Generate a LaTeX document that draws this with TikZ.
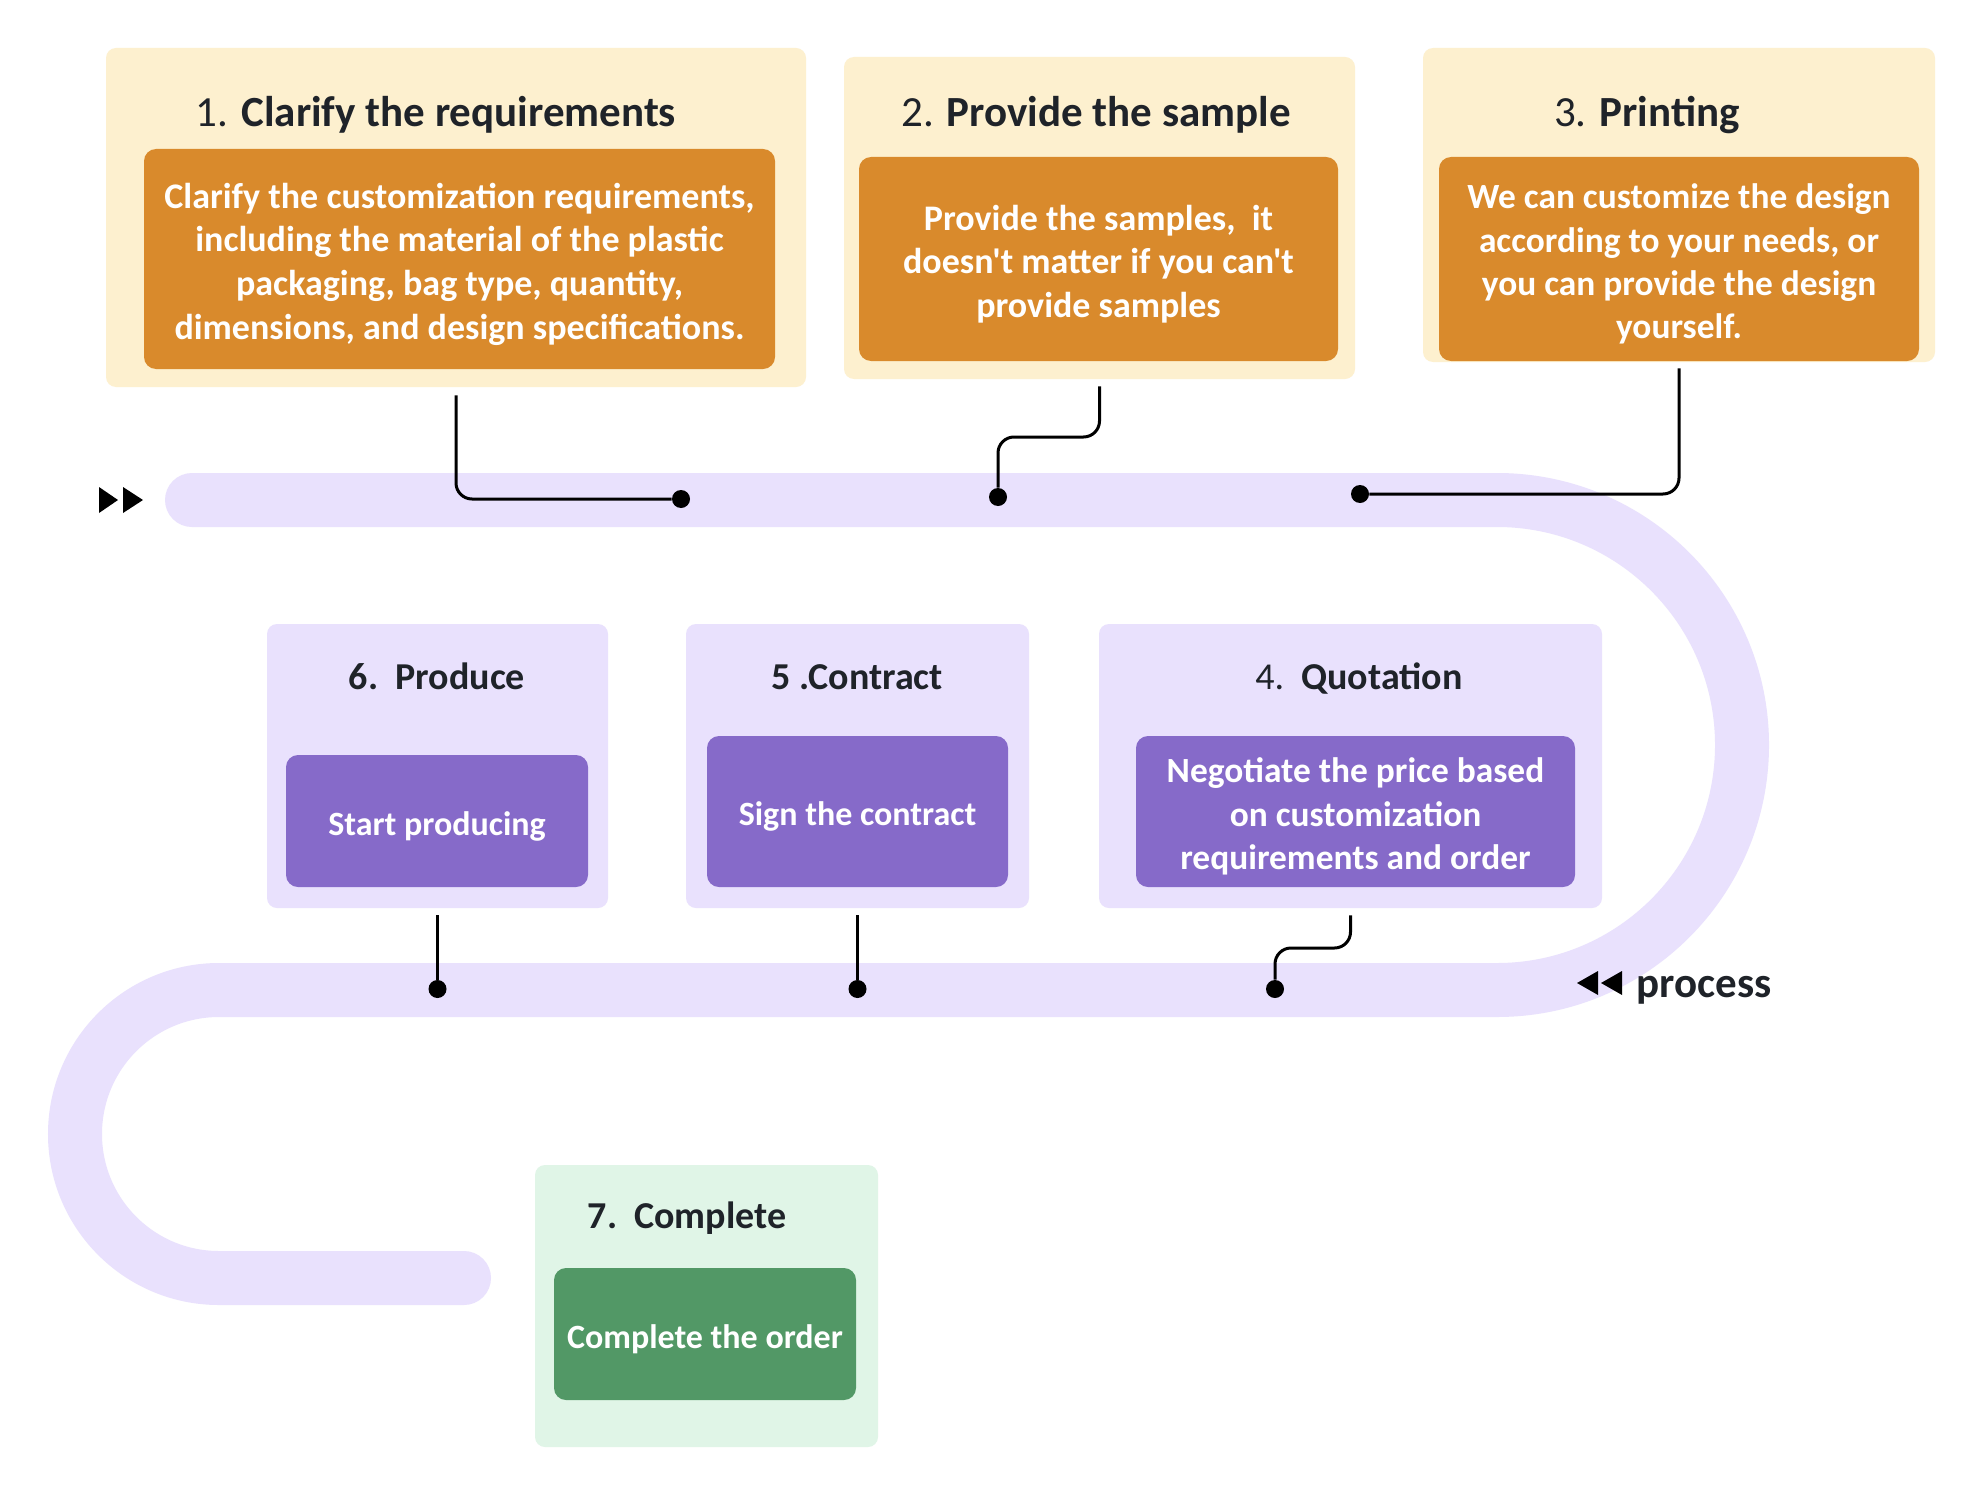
\documentclass[tikz,border=0pt]{standalone}
\usepackage{fontspec}
\newfontfamily\crl{Carlito}
\definecolor{ylw}{HTML}{FDF0CF}
\definecolor{org}{HTML}{D98A2C}
\definecolor{lav}{HTML}{E9E1FD}
\definecolor{pur}{HTML}{866AC9}
\definecolor{grn}{HTML}{529866}
\definecolor{lgrn}{HTML}{E0F5E7}
\definecolor{ink}{HTML}{1F2329}
\newcommand\ttlfnt{\crl\fontsize{21.5pt}{26pt}\selectfont}
\newcommand\ttlsmall{\crl\fontsize{19pt}{23pt}\selectfont}
\newcommand\bdyfnt{\crl\bfseries\fontsize{18pt}{21.8pt}\selectfont}
\newcommand\bdymid{\crl\bfseries\fontsize{17.7pt}{21.6pt}\selectfont}
\newcommand\bdysmall{\crl\bfseries\fontsize{17pt}{21pt}\selectfont}
\tikzset{
  outerbox/.style={rectangle, rounded corners=5pt, inner sep=0pt},
  innerbox/.style={rectangle, rounded corners=6pt, inner sep=0pt},
  bodytext/.style={inner sep=0pt, text=white, align=center, yshift=-2.5pt},
  ttl/.style={anchor=base, text=ink, font=\ttlfnt, inner sep=0pt},
  ttlb/.style={anchor=base, text=ink, font=\ttlsmall, inner sep=0pt},
  dotnode/.style={circle, fill=black, inner sep=0pt, minimum size=9pt},
  conn/.style={line width=1.5pt, black, rounded corners=8pt},
  track/.style={lav, line width=27pt, line cap=round}
}
\begin{document}
\begin{tikzpicture}[x=0.5pt,y=-0.5pt]
\useasboundingbox[fill=white] (0,0) rectangle (1984,1498);
% track
\draw[track] (192,500) -- (1497,500) arc[start angle=-90, end angle=90, radius=245]
  -- (219,990) arc[start angle=270, end angle=90, radius=144] -- (464,1278);
% outer boxes
\node[outerbox, fill=ylw, minimum width=350pt, minimum height=169.5pt] (o1) at (456,217.5) {};
\node[outerbox, fill=ylw, minimum width=255.5pt, minimum height=161pt] (o2) at (1099.5,218) {};
\node[outerbox, fill=ylw, minimum width=256pt, minimum height=157pt] (o3) at (1679,205) {};
\node[outerbox, fill=lav, minimum width=170.5pt, minimum height=142pt] (o6) at (437.5,766) {};
\node[outerbox, fill=lav, minimum width=171.5pt, minimum height=142pt] (o5) at (857.5,766) {};
\node[outerbox, fill=lav, minimum width=251.5pt, minimum height=142pt] (o4) at (1350.5,766) {};
\node[outerbox, fill=lgrn, minimum width=171.5pt, minimum height=141pt] (o7) at (706.5,1306) {};
% titles
\node[ttl] (t1) at (436,126.5) {1. \textbf{Clarify the requirements}};
\node[ttl] (t2) at (1096,126.5) {2. \textbf{Provide the sample}};
\node[ttl] (t3) at (1647,126.5) {3. \textbf{Printing}};
\node[ttlb] (t6) at (437,689) {\textbf{6.\ \ Produce}};
\node[ttlb] (t5) at (857,689) {\textbf{5 .Contract}};
\node[ttlb] (t4) at (1359,689) {4.\ \ \textbf{Quotation}};
\node[ttlb] (t7) at (687,1228) {\textbf{7.\ \ Complete}};
% inner boxes
\node[innerbox, fill=org, minimum width=315.5pt, minimum height=110pt] (i1) at (459.5,259) {};
\node[innerbox, fill=org, minimum width=239.5pt, minimum height=102pt] (i2) at (1098.5,259) {};
\node[innerbox, fill=org, minimum width=240pt, minimum height=102pt] (i3) at (1679,259) {};
\node[innerbox, fill=pur, minimum width=151pt, minimum height=66pt] (i6) at (437,821) {};
\node[innerbox, fill=pur, minimum width=150.5pt, minimum height=75.5pt] (i5) at (857.5,811.5) {};
\node[innerbox, fill=pur, minimum width=219.5pt, minimum height=75.5pt] (i4) at (1355.5,811.5) {};
\node[innerbox, fill=grn, minimum width=151pt, minimum height=66pt] (i7) at (705,1334) {};
% body texts
\node[bodytext, font=\bdyfnt] (b1) at (i1.center)
  {Clarify the customization requirements,\\including the material of the plastic\\packaging, bag type, quantity,\\dimensions, and design specifications.};
\node[bodytext, font=\bdyfnt] (b2) at (i2.center)
  {Provide the samples,\ \ it\\doesn't matter if you can't\\provide samples};
\node[bodytext, font=\bdymid] (b3) at (i3.center)
  {We can customize the design\\according to your needs, or\\you can provide the design\\yourself.};
\node[bodytext, font=\bdysmall] (b6) at (i6.center) {Start producing};
\node[bodytext, font=\bdysmall] (b5) at (i5.center) {Sign the contract};
\node[bodytext, font=\bdymid] (b4) at (i4.center)
  {Negotiate the price based\\on customization\\requirements and order};
\node[bodytext, font=\bdysmall] (b7) at (i7.center) {Complete the order};
% dots
\node[dotnode] (d1) at (681,499) {};
\node[dotnode] (d2) at (998,497) {};
\node[dotnode] (d3) at (1360,494) {};
\node[dotnode] (d6) at (437.5,989) {};
\node[dotnode] (d5) at (857.5,989) {};
\node[dotnode] (d4) at (1275,989) {};
\coordinate (k2) at (998,437);
\coordinate (k4) at (1275,948);
% connectors
\draw[conn] ([yshift=-4pt]o1.south) |- (d1);
\draw[conn] ([yshift=-3.5pt]o2.south) |- (k2) -- (d2);
\draw[conn] ([yshift=-3pt]o3.south) |- (d3);
\draw[conn] ([yshift=-3.5pt]o6.south) -- (d6);
\draw[conn] ([yshift=-3.5pt]o5.south) -- (d5);
\draw[conn] ([yshift=-3.5pt]o4.south) |- (k4) -- (d4);
% markers
\fill[black] (99,487) -- (118,500) -- (99,513) -- cycle;
\fill[black] (123,487) -- (143,500) -- (123,513) -- cycle;
\fill[black] (1598,971) -- (1577,983) -- (1598,995) -- cycle;
\fill[black] (1622,971) -- (1601,983) -- (1622,995) -- cycle;
\node[anchor=base west, inner sep=0pt, font=\ttlfnt\bfseries, text=ink] (proc) at (1636,997) {process};
\end{tikzpicture}
\end{document}
